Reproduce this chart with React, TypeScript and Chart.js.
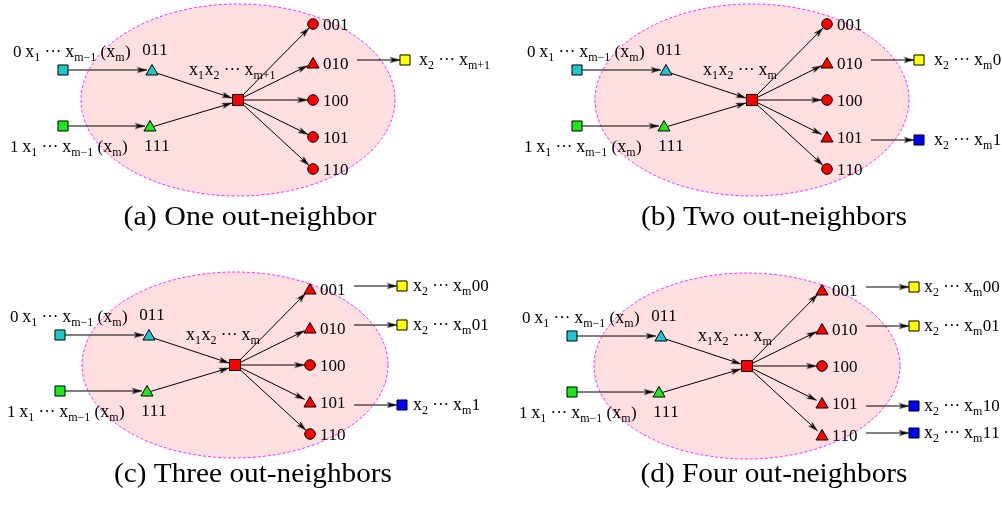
import { useEffect, useRef } from "react";
import { Chart, registerables } from "chart.js";
Chart.register(...registerables);

const W = 1002;
const H = 505;

// ---- panel data ----
const CAPTIONS = ["(a) One out-neighbor", "(b) Two out-neighbors", "(c) Three out-neighbors", "(d) Four out-neighbors"];
const PANEL_CX = [238, 752, 235, 747];
const PANEL_CY = [100, 100, 365, 366];
const CENTER_LABELS = ["x_{1}x_{2} ··· x_{m+1}", "x_{1}x_{2} ··· x_{m}", "x_{1}x_{2} ··· x_{m}", "x_{1}x_{2} ··· x_{m}"];
const IN_LABELS = ["0 x_{1} ··· x_{m−1} (x_{m})", "1 x_{1} ··· x_{m−1} (x_{m})"];
const IN_CODES = ["011", "111"];
const IN_COLORS = ["#1fc6cc", "#1ce81c"];
const OUT_CODES = ["001", "010", "100", "101", "110"];
const OUT_SHAPES = ["ctccc", "ctctc", "ttctc", "ttctt"];
const EXT_ROWS = [[1], [1, 3], [0, 1, 3], [0, 1, 3, 4]];
const EXT_COLORS = [
  ["#ffff00"],
  ["#ffff00", "#0000ff"],
  ["#ffff00", "#ffff00", "#0000ff"],
  ["#ffff00", "#ffff00", "#0000ff", "#0000ff"],
];
const EXT_LABELS = [
  ["x_{2} ··· x_{m+1}"],
  ["x_{2} ··· x_{m}0", "x_{2} ··· x_{m}1"],
  ["x_{2} ··· x_{m}00", "x_{2} ··· x_{m}01", "x_{2} ··· x_{m}1"],
  ["x_{2} ··· x_{m}00", "x_{2} ··· x_{m}01", "x_{2} ··· x_{m}10", "x_{2} ··· x_{m}11"],
];

// ---- layout (local offsets from the central red node) ----
const ELLIPSE_RX = [157, 157, 153, 153];
const ELLIPSE_RY = [96, 96, 93, 93];
const CAPTION_X = [250, 774, 253, 774];
const CAPTION_Y = [218, 218, 475, 475];
const CAPTION_W = [253, 266, 278, 267];
const IN_SQ_DX = -175;
const IN_SQ_DY = [-30, 26];
const IN_TRI_DX = [-86, -88];
const IN_TRI_DY = [-28.5, 27.5];
const OUT_DX = 75;
const OUT_ROW_DY = [-76, -37, 0, 37, 69];
const EXT_DY_SHIFT = [-3, -3, 0, 3, -2];
const EXT_ARROW_X0 = 119;
const EXT_SQ_DX = 167;
const EXT_LABEL_DX = [181, 182, 178, 177];

const FAMILY = "'Liberation Serif', 'Times New Roman', Times, serif";
const MAIN_FONT = `17px ${FAMILY}`;
const X_FONT = `18px ${FAMILY}`;
const SUB_FONT = `12px ${FAMILY}`;
const CAPTION_FONT = `27px ${FAMILY}`;

function makeArrow() {
  const c = document.createElement("canvas");
  c.width = 24;
  c.height = 9;
  const g = c.getContext("2d")!;
  g.fillStyle = "#000";
  g.beginPath();
  g.moveTo(12, 4.5);
  g.lineTo(1.5, 1.4);
  g.lineTo(4.5, 4.5);
  g.lineTo(1.5, 7.6);
  g.closePath();
  g.fill();
  return c;
}

type Tok = { t: string; font: string; dy: number; gap: number };
function tokens(s: string): Tok[] {
  const out: Tok[] = [];
  let i = 0;
  while (i < s.length) {
    if (s[i] === "_" && s[i + 1] === "{") {
      const j = s.indexOf("}", i);
      out.push({ t: s.slice(i + 2, j), font: SUB_FONT, dy: 4, gap: 0.5 });
      i = j + 1;
    } else {
      const ch = s[i];
      out.push({ t: ch, font: ch === "x" ? X_FONT : MAIN_FONT, dy: 0, gap: ch === " " ? -0.5 : 0 });
      i++;
    }
  }
  return out;
}

function drawRich(ctx: CanvasRenderingContext2D, s: string, x: number, y: number, center = false) {
  const toks = tokens(s);
  let total = 0;
  const ws = toks.map((tk) => {
    ctx.font = tk.font;
    const w = ctx.measureText(tk.t).width + tk.gap;
    total += w;
    return w;
  });
  let cx = center ? x - total / 2 : x;
  ctx.textBaseline = "alphabetic";
  ctx.textAlign = "left";
  toks.forEach((tk, k) => {
    ctx.font = tk.font;
    ctx.fillText(tk.t, cx, y + tk.dy);
    cx += ws[k];
  });
}

export default function App() {
  const ref = useRef<HTMLCanvasElement>(null);
  useEffect(() => {
    document.body.style.margin = "0";
    const arrowImg = makeArrow();
    const edges: any[] = [];
    const heads: any[] = [];
    const squares: any[] = [];
    const tris: any[] = [];
    const circles: any[] = [];
    const addEdge = (x1: number, y1: number, x2: number, y2: number) => {
      edges.push({ x: x1, y: y1 }, { x: x2, y: y2 }, { x: x2, y: null });
      heads.push({ x: x2, y: y2, rot: (Math.atan2(y2 - y1, x2 - x1) * 180) / Math.PI });
    };

    for (let p = 0; p < 4; p++) {
      const cx = PANEL_CX[p];
      const cy = PANEL_CY[p];
      for (let i = 0; i < 2; i++) {
        squares.push({ x: cx + IN_SQ_DX, y: cy + IN_SQ_DY[i], c: IN_COLORS[i], r: 7.1 });
        tris.push({ x: cx + IN_TRI_DX[i], y: cy + IN_TRI_DY[i], c: IN_COLORS[i] });
        addEdge(cx + IN_SQ_DX + 5, cy + IN_SQ_DY[i], cx + IN_TRI_DX[i] - 5, cy + IN_SQ_DY[i]);
      }
      addEdge(cx + IN_TRI_DX[0], cy + IN_TRI_DY[0], cx - 6, cy - 2);
      addEdge(cx + IN_TRI_DX[1], cy + IN_TRI_DY[1], cx - 6, cy + 3);
      squares.push({ x: cx, y: cy, c: "#ff0000", r: 7.8 });
      for (let r = 0; r < 5; r++) {
        const nx = cx + OUT_DX;
        const ny = cy + OUT_ROW_DY[r];
        const shape = OUT_SHAPES[p][r];
        if (shape === "t") tris.push({ x: nx, y: ny + 1.5, c: "#ff0000" });
        else circles.push({ x: nx, y: ny, c: "#ff0000" });
        const dx = nx - cx;
        const dy = ny - cy;
        const len = Math.hypot(dx, dy);
        const rr = shape === "t" ? 6 : 5.5;
        addEdge(cx, cy, nx - (dx / len) * rr, ny - (dy / len) * rr);
      }
      EXT_ROWS[p].forEach((row, k) => {
        const ey = cy + OUT_ROW_DY[row] + EXT_DY_SHIFT[row];
        squares.push({ x: cx + EXT_SQ_DX, y: ey, c: EXT_COLORS[p][k], r: 7.1 });
        addEdge(cx + EXT_ARROW_X0, ey, cx + EXT_SQ_DX - 5, ey);
      });
    }

    const backdrop = {
      id: "backdrop",
      beforeDatasetsDraw(chart: any) {
        const { ctx, scales } = chart;
        const xs = scales.x;
        const ys = scales.y;
        ctx.save();
        ctx.fillStyle = "#ffffff";
        ctx.fillRect(0, 0, chart.width, chart.height);
        for (let p = 0; p < 4; p++) {
          const px = xs.getPixelForValue(PANEL_CX[p]);
          const py = ys.getPixelForValue(PANEL_CY[p]);
          const rx = Math.abs(xs.getPixelForValue(PANEL_CX[p] + ELLIPSE_RX[p]) - px);
          const ry = Math.abs(ys.getPixelForValue(PANEL_CY[p] + ELLIPSE_RY[p]) - py);
          ctx.beginPath();
          ctx.ellipse(px, py, rx, ry, 0, 0, Math.PI * 2);
          ctx.fillStyle = "#ffdfe0";
          ctx.fill();
          ctx.setLineDash([3, 2]);
          ctx.lineWidth = 1;
          ctx.strokeStyle = "#ff22ff";
          ctx.stroke();
          ctx.setLineDash([]);
        }
        ctx.restore();
      },
    };

    const texts = {
      id: "texts",
      afterDatasetsDraw(chart: any) {
        const { ctx, scales } = chart;
        const X = (v: number) => scales.x.getPixelForValue(v);
        const Y = (v: number) => scales.y.getPixelForValue(v);
        ctx.save();
        ctx.fillStyle = "#000";
        for (let p = 0; p < 4; p++) {
          const cx = PANEL_CX[p];
          const cy = PANEL_CY[p];
          drawRich(ctx, IN_LABELS[0], X(cx - 225), Y(cy - 43));
          drawRich(ctx, IN_LABELS[1], X(cx - 228), Y(cy + 52));
          drawRich(ctx, IN_CODES[0], X(cx - 83), Y(cy - 45), true);
          drawRich(ctx, IN_CODES[1], X(cx - 81), Y(cy + 51), true);
          drawRich(ctx, CENTER_LABELS[p], X(cx - 49), Y(cy - 25));
          for (let r = 0; r < 5; r++) {
            drawRich(ctx, OUT_CODES[r], X(cx + OUT_DX + 10), Y(cy + OUT_ROW_DY[r] + 6));
          }
          EXT_ROWS[p].forEach((row, k) => {
            const ey = cy + OUT_ROW_DY[row] + EXT_DY_SHIFT[row];
            drawRich(ctx, EXT_LABELS[p][k], X(cx + EXT_LABEL_DX[p]), Y(ey + 5));
          });
          ctx.font = CAPTION_FONT;
          const w = ctx.measureText(CAPTIONS[p]).width;
          ctx.save();
          ctx.translate(X(CAPTION_X[p]), Y(CAPTION_Y[p]));
          ctx.scale(CAPTION_W[p] / w, 1);
          ctx.textAlign = "center";
          ctx.textBaseline = "middle";
          ctx.fillText(CAPTIONS[p], 0, 0);
          ctx.restore();
        }
        ctx.restore();
      },
    };

    const chart = new Chart(ref.current!, {
      type: "scatter",
      data: {
        datasets: [
          {
            data: squares,
            pointStyle: "rect",
            pointRadius: (c: any) => c.raw?.r ?? 7,
            pointBackgroundColor: (c: any) => c.raw?.c,
            pointBorderColor: "#000",
            pointBorderWidth: 1,
            order: 0,
          } as any,
          {
            data: tris,
            pointStyle: "triangle",
            pointRadius: 7,
            pointBackgroundColor: (c: any) => c.raw?.c,
            pointBorderColor: "#000",
            pointBorderWidth: 1,
            order: 0,
          },
          {
            data: circles,
            pointStyle: "circle",
            pointRadius: 5.3,
            pointBackgroundColor: (c: any) => c.raw?.c,
            pointBorderColor: "#000",
            pointBorderWidth: 1,
            order: 0,
          },
          {
            data: heads,
            pointStyle: arrowImg,
            pointRotation: (c: any) => c.raw?.rot ?? 0,
            pointRadius: 5,
            order: 1,
          } as any,
          {
            data: edges,
            showLine: true,
            spanGaps: false,
            borderColor: "#000",
            borderWidth: 1,
            pointRadius: 0,
            order: 2,
          },
        ],
      },
      options: {
        responsive: false,
        animation: false,
        devicePixelRatio: 1,
        events: [],
        layout: { padding: 0, autoPadding: false },
        plugins: { legend: { display: false }, tooltip: { enabled: false } },
        scales: {
          x: { type: "linear", min: 0, max: W, display: false },
          y: { type: "linear", min: 0, max: H, reverse: true, display: false },
        },
      },
      plugins: [backdrop, texts],
    });
    return () => chart.destroy();
  }, []);
  return (
    <div style={{ position: "fixed", left: 0, top: 0, width: W, height: H, background: "#fff" }}>
      <canvas ref={ref} width={W} height={H} style={{ display: "block" }} />
    </div>
  );
}
